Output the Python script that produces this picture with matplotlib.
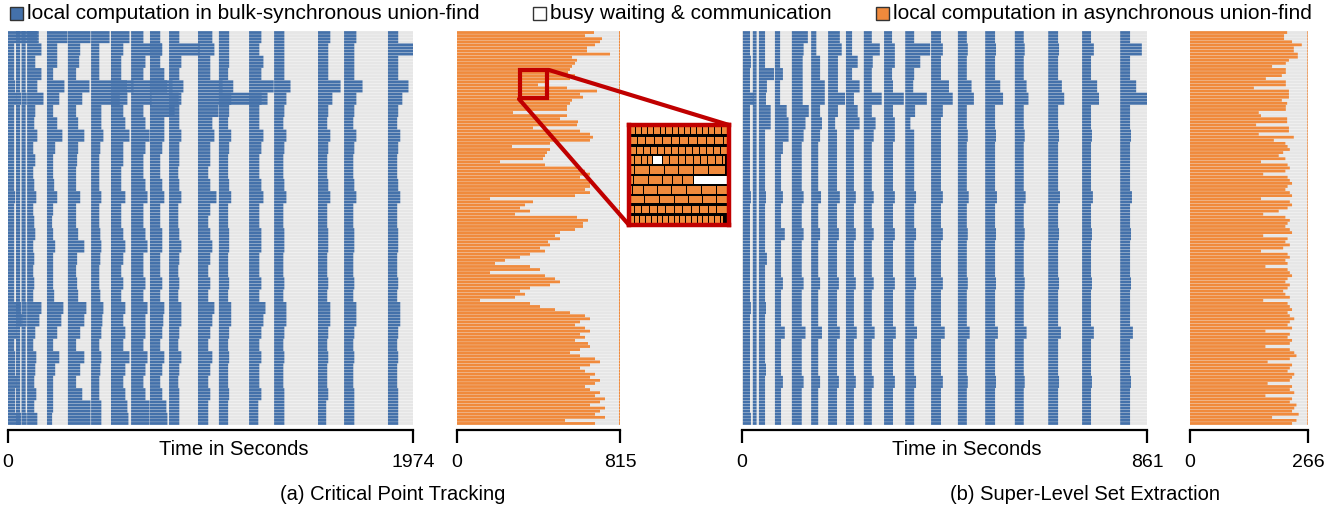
import numpy as np
import matplotlib.pyplot as plt
from matplotlib.patches import Rectangle
from matplotlib.lines import Line2D

plt.rcParams['font.family'] = ['Liberation Sans', 'DejaVu Sans']

W, H = 1343, 511
N_ROWS = 128          # ranks, one row each
BAND = 4              # rows per value in the bulk-synchronous width lists

BLUE = '#4471aa'
ORANGE = '#f08a3c'
GREY = '#e6e6e6'
RED = '#c00000'

# ---------------- (a) Critical Point Tracking ----------------
cpt_total_bsp = 1974
cpt_total_async = 815
cpt_starts = [0, 39, 66, 93, 190, 292, 405, 502, 600, 692, 785, 926, 1028, 1175, 1297, 1511, 1638, 1852]
cpt_widths = [
    [150, 30, 30, 30, 35, 40, 30, 30, 30, 30, 30, 30, 30, 35, 30, 30, 30, 30, 30, 30, 30, 30, 60, 70, 40, 30, 35, 35, 40, 35, 35, 60],
    [20, 20, 20, 20, 20, 25, 20, 20, 20, 20, 20, 20, 20, 20, 20, 20, 20, 20, 20, 20, 20, 20, 25, 25, 20, 20, 20, 20, 20, 20, 20, 25],
    [20, 20, 20, 20, 20, 25, 20, 20, 20, 20, 20, 20, 20, 20, 20, 20, 20, 20, 20, 20, 20, 20, 25, 25, 20, 20, 20, 20, 20, 20, 20, 25],
    [50, 70, 40, 70, 50, 80, 40, 35, 50, 30, 40, 30, 35, 45, 30, 35, 40, 30, 35, 30, 35, 30, 70, 60, 40, 30, 45, 40, 35, 45, 35, 50],
    [100, 50, 50, 30, 85, 60, 30, 50, 75, 40, 30, 30, 35, 50, 30, 25, 30, 40, 30, 30, 30, 35, 80, 70, 50, 30, 60, 40, 30, 30, 30, 25],
    [110, 60, 55, 40, 105, 70, 40, 50, 80, 50, 45, 40, 40, 60, 40, 40, 50, 80, 45, 40, 45, 50, 90, 80, 60, 40, 80, 60, 40, 70, 110, 110],
    [90, 40, 40, 40, 175, 140, 50, 50, 60, 45, 40, 40, 40, 50, 40, 40, 45, 50, 45, 40, 40, 45, 60, 55, 50, 40, 50, 45, 40, 40, 50, 50],
    [90, 60, 50, 50, 110, 80, 60, 70, 90, 60, 60, 50, 50, 70, 50, 50, 60, 70, 60, 50, 60, 50, 70, 60, 70, 60, 90, 70, 60, 70, 80, 85],
    [60, 150, 70, 60, 175, 100, 60, 70, 90, 70, 60, 60, 70, 80, 60, 60, 70, 80, 60, 60, 70, 60, 80, 70, 70, 60, 80, 70, 60, 70, 90, 90],
    [50, 60, 50, 70, 110, 140, 120, 70, 70, 60, 50, 50, 60, 70, 50, 50, 60, 60, 50, 50, 60, 50, 70, 65, 60, 50, 70, 60, 50, 60, 80, 85],
    [50, 150, 60, 50, 70, 60, 50, 50, 60, 50, 50, 45, 50, 60, 45, 45, 50, 60, 50, 45, 50, 45, 60, 60, 50, 45, 60, 50, 45, 50, 50, 50],
    [70, 80, 60, 60, 120, 310, 100, 70, 80, 60, 60, 50, 60, 90, 60, 50, 60, 70, 60, 50, 60, 50, 80, 70, 60, 50, 70, 60, 50, 60, 50, 50],
    [50, 50, 50, 45, 70, 60, 50, 45, 60, 50, 45, 45, 50, 60, 45, 45, 50, 50, 45, 45, 50, 45, 60, 60, 50, 45, 50, 45, 45, 50, 45, 45],
    [60, 50, 70, 60, 120, 90, 50, 50, 70, 60, 50, 50, 60, 70, 50, 50, 60, 60, 50, 50, 60, 50, 80, 70, 60, 50, 60, 50, 50, 60, 45, 45],
    [50, 50, 50, 50, 80, 60, 50, 45, 60, 50, 45, 45, 50, 60, 45, 45, 50, 50, 45, 45, 50, 45, 60, 60, 50, 45, 50, 45, 45, 50, 50, 50],
    [60, 50, 50, 50, 110, 70, 50, 45, 60, 50, 45, 45, 50, 60, 45, 45, 50, 50, 45, 45, 50, 45, 60, 60, 50, 45, 50, 45, 45, 50, 40, 40],
    [60, 50, 50, 50, 90, 60, 50, 45, 60, 50, 45, 45, 50, 60, 45, 45, 50, 50, 45, 45, 50, 45, 60, 60, 50, 45, 50, 45, 45, 50, 50, 50],
    [50, 125, 50, 50, 100, 70, 50, 45, 60, 50, 45, 45, 50, 60, 45, 45, 50, 50, 45, 45, 50, 45, 60, 60, 50, 45, 50, 45, 45, 50, 50, 50],
]
cpt_async = [
    685, 640, 725, 715, 690, 650, 650, 765, 575, 600, 590, 575, 565, 555, 590, 565,
    455, 405, 550, 700, 615, 630, 575, 565, 550, 550, 280, 550, 515, 605, 600, 380,
    615, 665, 680, 665, 465, 275, 465, 450, 440, 430, 215, 440, 600, 640, 665, 615,
    655, 665, 665, 640, 665, 590, 165, 380, 340, 315, 365, 290, 600, 655, 630, 630,
    590, 515, 490, 515, 455, 465, 415, 440, 365, 315, 240, 190, 365, 415, 165, 440,
    490, 515, 465, 365, 315, 340, 290, 115, 365, 415, 490, 565, 640, 665, 615, 590,
    640, 665, 615, 640, 590, 655, 665, 615, 565, 615, 690, 715, 665, 615, 640, 690,
    665, 715, 690, 640, 665, 715, 690, 740, 715, 665, 740, 715, 690, 740, 540, 690,
]

# ---------------- (b) Super-Level Set Extraction ----------------
sls_total_bsp = 861
sls_total_async = 266
sls_starts = [2, 23, 36, 70, 106, 147, 183, 221, 259, 302, 347, 402, 459, 517, 580, 651, 723, 804]
sls_widths = [
    [15, 15, 17, 15, 15, 23, 15, 15, 15, 15, 15, 15, 15, 17, 15, 15, 15, 15, 15, 15, 15, 15, 17, 15, 15, 15, 15, 15, 15, 15, 15, 17],
    [8, 8, 8, 8, 8, 8, 8, 8, 8, 8, 8, 8, 8, 8, 8, 8, 8, 8, 8, 8, 8, 8, 8, 8, 8, 8, 8, 8, 8, 8, 8, 8],
    [13, 13, 13, 32, 17, 15, 25, 25, 13, 13, 13, 13, 13, 15, 13, 13, 13, 13, 17, 13, 13, 13, 15, 13, 13, 13, 13, 15, 13, 13, 13, 13],
    [11, 11, 11, 17, 11, 11, 25, 29, 29, 17, 13, 13, 13, 17, 13, 13, 21, 13, 13, 13, 17, 13, 13, 13, 21, 13, 13, 13, 17, 13, 13, 13],
    [34, 25, 23, 23, 23, 23, 36, 29, 25, 21, 21, 21, 21, 25, 21, 21, 25, 21, 21, 21, 25, 21, 21, 21, 29, 21, 21, 21, 25, 21, 21, 21],
    [11, 11, 19, 19, 29, 29, 19, 23, 19, 15, 15, 15, 15, 21, 15, 15, 19, 15, 15, 15, 19, 15, 15, 15, 23, 15, 15, 15, 19, 15, 15, 15],
    [25, 29, 21, 21, 21, 36, 21, 15, 19, 19, 19, 19, 19, 25, 19, 19, 23, 19, 19, 19, 23, 19, 19, 19, 25, 19, 19, 19, 23, 19, 19, 19],
    [13, 13, 25, 13, 29, 17, 25, 29, 17, 17, 17, 17, 17, 21, 17, 17, 21, 17, 17, 17, 21, 17, 17, 17, 23, 17, 17, 17, 21, 17, 17, 17],
    [17, 34, 19, 17, 17, 38, 17, 25, 21, 17, 17, 17, 17, 21, 17, 17, 21, 17, 17, 17, 21, 17, 17, 17, 23, 17, 17, 17, 21, 17, 17, 17],
    [17, 23, 23, 17, 19, 42, 19, 23, 23, 19, 19, 19, 19, 23, 19, 19, 23, 19, 19, 19, 23, 19, 19, 19, 25, 19, 19, 19, 23, 19, 19, 19],
    [19, 53, 32, 19, 17, 46, 21, 11, 19, 19, 19, 19, 19, 23, 19, 19, 23, 19, 19, 19, 23, 19, 19, 19, 25, 19, 19, 19, 23, 19, 19, 19],
    [21, 25, 21, 21, 38, 46, 25, 21, 21, 21, 21, 21, 21, 25, 21, 21, 25, 21, 21, 21, 25, 21, 21, 21, 29, 21, 21, 21, 25, 21, 21, 21],
    [19, 21, 19, 19, 29, 34, 19, 19, 21, 19, 19, 19, 19, 23, 19, 19, 21, 19, 19, 19, 21, 19, 19, 19, 25, 19, 19, 19, 21, 19, 19, 19],
    [21, 23, 21, 21, 32, 38, 21, 21, 23, 21, 21, 21, 21, 25, 21, 21, 23, 21, 21, 21, 23, 21, 21, 21, 27, 21, 21, 21, 23, 21, 21, 21],
    [19, 21, 19, 19, 25, 29, 19, 19, 21, 19, 19, 19, 19, 23, 19, 19, 21, 19, 19, 19, 21, 19, 19, 19, 25, 19, 19, 19, 21, 19, 19, 19],
    [21, 23, 21, 21, 29, 34, 21, 21, 23, 21, 21, 21, 21, 25, 21, 21, 23, 21, 21, 21, 23, 21, 21, 21, 27, 21, 21, 21, 23, 21, 21, 21],
    [19, 25, 19, 19, 32, 36, 19, 19, 21, 19, 19, 19, 19, 23, 19, 19, 21, 19, 19, 19, 21, 19, 19, 19, 25, 19, 19, 19, 21, 19, 19, 19],
    [21, 46, 21, 21, 34, 57, 21, 21, 23, 21, 21, 21, 21, 25, 21, 21, 23, 21, 21, 21, 23, 21, 21, 21, 27, 21, 21, 21, 23, 21, 21, 21],
]
sls_async = [
    219, 212, 212, 230, 252, 234, 234, 243, 243, 223, 216, 185, 216, 216, 207, 171,
    216, 216, 144, 223, 223, 223, 207, 219, 216, 216, 155, 160, 219, 219, 149, 223,
    223, 155, 234, 189, 215, 220, 225, 210, 200, 215, 160, 220, 225, 215, 165, 220,
    225, 230, 220, 215, 225, 230, 160, 225, 230, 220, 200, 165, 215, 225, 220, 215,
    225, 230, 165, 220, 215, 225, 210, 160, 220, 225, 215, 220, 170, 220, 225, 230,
    220, 215, 225, 220, 210, 215, 225, 165, 220, 225, 230, 220, 225, 235, 225, 220,
    230, 170, 225, 220, 230, 225, 170, 225, 235, 240, 225, 175, 230, 225, 220, 235,
    230, 225, 175, 230, 225, 235, 170, 230, 225, 240, 235, 230, 245, 185, 240, 230,
]

# zoomed-in detail of the asynchronous run: task lengths per rank (10 ranks)
inset_rows = [
    [9, 10, 9, 10, 10, 9, 10, 9, 10, 9, 10, 10, 9, 10, 10, 9],
    [12, 13, 14, 13, 14, 13, 14, 13, 14, 13, 14, 10],
    [11, 11, 11, 11, 11, 11, 11, 11, 11, 11, 11, 11, 11, 12],
    [7, 11, 10, 8, 16, 11, 13, 11, 13, 11, 11, 13, 11, 5],
    [7, 24, 23, 23, 24, 23, 26],
    [6, 23, 22, 16, 16, 18, 52],
    [5, 16, 23, 22, 24, 23, 23, 17],
    [24, 23, 23, 23, 22, 22, 18],
    [7, 12, 12, 12, 13, 14, 13, 14, 13, 14, 13, 16],
    [7, 9, 9, 9, 9, 9, 9, 9, 9, 9, 9, 9, 9, 9, 9, 9, 5],
]
inset_idle = [(3, 4), (5, 6)]   # (rank, task) that are waiting instead of computing

legend_labels = ['local computation in bulk-synchronous union-find',
                 'busy waiting & communication',
                 'local computation in asynchronous union-find']

fig = plt.figure(figsize=(W / 100, H / 100), dpi=100)
rows = np.arange(N_ROWS)
ROW_TOP, ROW_BOT, AXIS_Y = 31, 425, 430
pitch = (ROW_BOT - ROW_TOP) / N_ROWS
BAR_H = 0.9


def panel(x0, x1, total):
    ax = fig.add_axes([x0 / W, 1 - AXIS_Y / H, (x1 - x0) / W, (AXIS_Y - ROW_TOP) / H])
    ax.set_xlim(0, total)
    ax.set_ylim(-0.5 + (AXIS_Y - ROW_TOP) / pitch, -0.5)
    for s in ['top', 'left', 'right']:
        ax.spines[s].set_visible(False)
    ax.spines['bottom'].set_linewidth(1.6)
    ax.set_yticks([])
    ax.set_xticks([0, total])
    ax.set_xticklabels(['0', str(total)])
    ax.tick_params(axis='x', length=9, width=1.6, pad=8, labelsize=14)
    ax.barh(rows, total, left=0, height=BAR_H, color=GREY, linewidth=0, snap=False)
    return ax


def bsp_panel(x0, x1, total, starts, widths):
    ax = panel(x0, x1, total)
    for s, w in zip(starts, widths):
        ax.barh(rows, np.repeat(w, BAND), left=s, height=BAR_H, color=BLUE, linewidth=0, snap=False)
    return ax


def async_panel(x0, x1, total, lengths):
    ax = panel(x0, x1, total)
    ax.barh(rows, lengths, left=0, height=BAR_H, color=ORANGE, linewidth=0, snap=False)
    ax.barh(rows, total * 0.006, left=total * 0.994, height=BAR_H, color=ORANGE, linewidth=0, snap=False)
    return ax


bsp_panel(8, 413, cpt_total_bsp, cpt_starts, cpt_widths)
async_panel(457, 620, cpt_total_async, cpt_async)
bsp_panel(742, 1147, sls_total_bsp, sls_starts, sls_widths)
async_panel(1190, 1308, sls_total_async, sls_async)

# axis titles and captions
for xc in (234, 967):
    fig.text(xc / W, 1 - 449 / H, 'Time in Seconds', ha='center', va='center', fontsize=14.5)
fig.text(393 / W, 1 - 494 / H, '(a) Critical Point Tracking', ha='center', va='center', fontsize=14.5)
fig.text(1085 / W, 1 - 494 / H, '(b) Super-Level Set Extraction', ha='center', va='center', fontsize=14.5)

# legend
for xs, col, lab in zip((10, 533, 876), (BLUE, 'white', ORANGE), legend_labels):
    fig.add_artist(Rectangle((xs / W, 1 - 20 / H), 13 / W, 13 / H, transform=fig.transFigure,
                             facecolor=col, edgecolor='#333333', linewidth=1))
    fig.text((xs + 17) / W, 1 - 13.5 / H, lab, ha='left', va='center', fontsize=15)

# zoom-in inset
fig.add_artist(Rectangle((520 / W, 1 - 98 / H), 27 / W, 28 / H, transform=fig.transFigure,
                         facecolor='none', edgecolor=RED, linewidth=3, zorder=5))
for (xa, ya), (xb, yb) in [((549, 70), (729, 125)), ((519, 99), (629, 225))]:
    fig.add_artist(Line2D([xa / W, xb / W], [1 - ya / H, 1 - yb / H], transform=fig.transFigure,
                          color=RED, linewidth=3, solid_capstyle='round', zorder=5))

axi = fig.add_axes([629 / W, 1 - 225 / H, 100 / W, 100 / H], zorder=10)
axi.set_facecolor('black')
for i, tasks in enumerate(inset_rows):
    left = 0
    for j, d in enumerate(tasks):
        col = 'white' if (i, j) in inset_idle else ORANGE
        axi.barh(i, d - 1.6, left=left + 0.8, height=0.74, color=col, linewidth=0)
        left += d
axi.set_xlim(-1, 156)
axi.set_ylim(9.55, -0.55)
axi.set_xticks([])
axi.set_yticks([])
for s in axi.spines.values():
    s.set_color(RED)
    s.set_linewidth(3.2)

fig.savefig('out.png', dpi=100)
